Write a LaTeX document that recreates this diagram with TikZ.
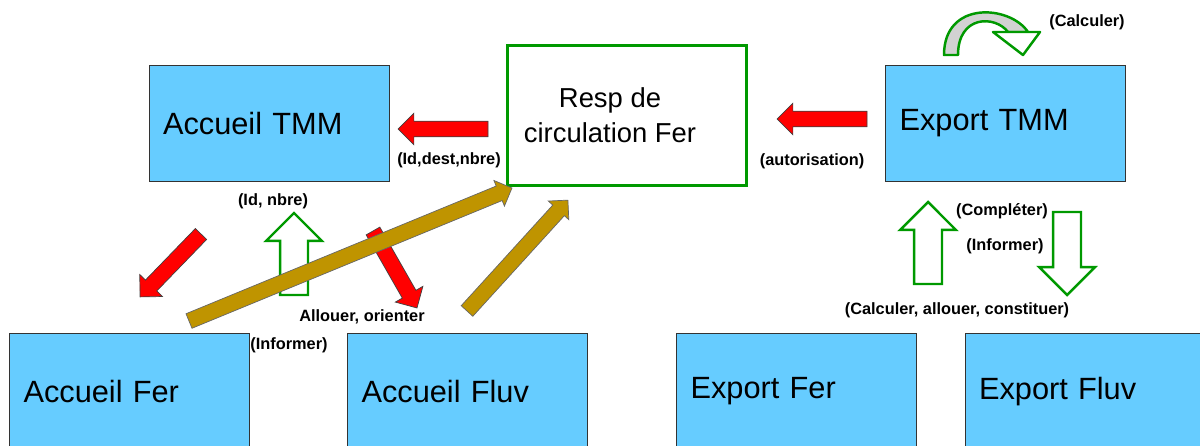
\documentclass[tikz,border=0pt]{standalone}
\usepackage{fontspec}
\setmainfont{Liberation Sans}
\usetikzlibrary{shapes.arrows,calc}
\definecolor{boxblue}{RGB}{102,204,255}
\definecolor{arrowgold}{RGB}{191,148,0}
\definecolor{respgreen}{RGB}{0,153,0}
% block arrow laid from a tail coordinate to a tip coordinate
\newcommand{\blockarrow}[3]{%
  \path let \p1=($(#3)-(#2)$), \n1={veclen(\x1,\y1)} in
    (#2) -- node[#1, pos=0, anchor=tail, sloped, allow upside down, minimum height=\n1] {} (#3);}
\begin{document}
\begin{tikzpicture}[x=0.02cm, y=-0.02cm,
  box/.style={rectangle, draw=black!80, fill=boxblue, minimum width=4.8cm, minimum height=2.32cm,
    text width=4.24cm, inner xsep=0.28cm, align=left, font=\fontsize{17.5}{21}\selectfont},
  respbox/.style={rectangle, draw=respgreen, line width=1.7pt, fill=white, minimum width=4.8cm, minimum height=2.82cm},
  redarrow/.style={single arrow, draw=black!75, fill=red, inner xsep=0pt, inner ysep=0.15cm, outer sep=0pt, single arrow head extend=0.16cm},
  goldarrow/.style={single arrow, draw=black!60, fill=arrowgold, inner xsep=0pt, inner ysep=0.15cm, outer sep=0pt, single arrow head extend=0.12cm},
  greenarrow/.style={single arrow, draw=respgreen, line width=1.4pt, fill=white, inner xsep=0pt, inner ysep=0.255cm, outer sep=0pt, single arrow head extend=0.28cm},
  lbl/.style={font=\fontsize{9.3}{11}\selectfont\bfseries, inner sep=0pt}]
\useasboundingbox (0,0) rectangle (1200,446);

\node [box] (accTMM) at (269,123.5) {Accueil TMM};
\node [box] (expTMM) at (1005.5,123.5) {Export TMM};
\node [respbox, label={[align=center, font=\fontsize{15.6}{19.8}\selectfont, xshift=-0.34cm]center:Resp de\\circulation Fer}] (resp) at (627,115.5) {};
\node [box] (accFer) at (129.5,391.5) {Accueil Fer};
\node [box] (accFluv) at (467.5,391.5) {Accueil Fluv};
\node [box] (expFer) at (796.5,391.5) {Export Fer};
\node [box] (expFluv) at (1085,391.5) {Export Fluv};

% arrow ends
\coordinate (r1a) at (488,129);  \coordinate (r1b) at (398,129);
\coordinate (r2a) at (867,119);  \coordinate (r2b) at (777,119);
\coordinate (r3a) at (201,234);  \coordinate (r3b) at (140,297);
\coordinate (r4a) at (373,231);  \coordinate (r4b) at (417,308);
\coordinate (g1a) at (294,295);  \coordinate (g1b) at (294,213);
\coordinate (g2a) at (928,284);  \coordinate (g2b) at (928,202);
\coordinate (g3a) at (1067,212); \coordinate (g3b) at (1067,295);
\coordinate (y1a) at (189,321);  \coordinate (y1b) at (512,188);
\coordinate (y2a) at (467,311);  \coordinate (y2b) at (568,200);

\blockarrow{redarrow}{r1a}{r1b}
\blockarrow{redarrow}{r2a}{r2b}
\blockarrow{redarrow}{r3a}{r3b}
\blockarrow{redarrow}{r4a}{r4b}
\blockarrow{greenarrow}{g1a}{g1b}
\blockarrow{greenarrow}{g2a}{g2b}
\blockarrow{greenarrow}{g3a}{g3b}
\blockarrow{goldarrow}{y1a}{y1b}
\blockarrow{goldarrow}{y2a}{y2b}

% curved arrow over Export TMM
\draw [respgreen, line width=1.4pt, fill=gray!35, line join=round]
  (944,55) .. controls (944,0) and (1010,5) .. (1028,32) -- (1008,32)
  .. controls (995,15) and (958,15) .. (958,55) -- cycle;
\draw [respgreen, line width=1.4pt, fill=white, line join=round]
  (993,32) -- (1040,32) -- (1023,55) -- cycle;

\node [lbl] (lIdDest) at (449,160) {(Id,dest,nbre)};
\node [lbl] (lAut) at (812,161) {(autorisation)};
\node [lbl] (lIdNbre) at (273,201) {(Id, nbre)};
\node [lbl] (lAllouer) at (362,317) {Allouer, orienter};
\node [lbl] (lInf1) at (289,345) {(Informer)};
\node [lbl] (lCalc) at (1087,22) {(Calculer)};
\node [lbl] (lCompl) at (1002,211) {(Compléter)};
\node [lbl] (lInf2) at (1005,246) {(Informer)};
\node [lbl] (lCAC) at (957,310) {(Calculer, allouer, constituer)};
\end{tikzpicture}
\end{document}
